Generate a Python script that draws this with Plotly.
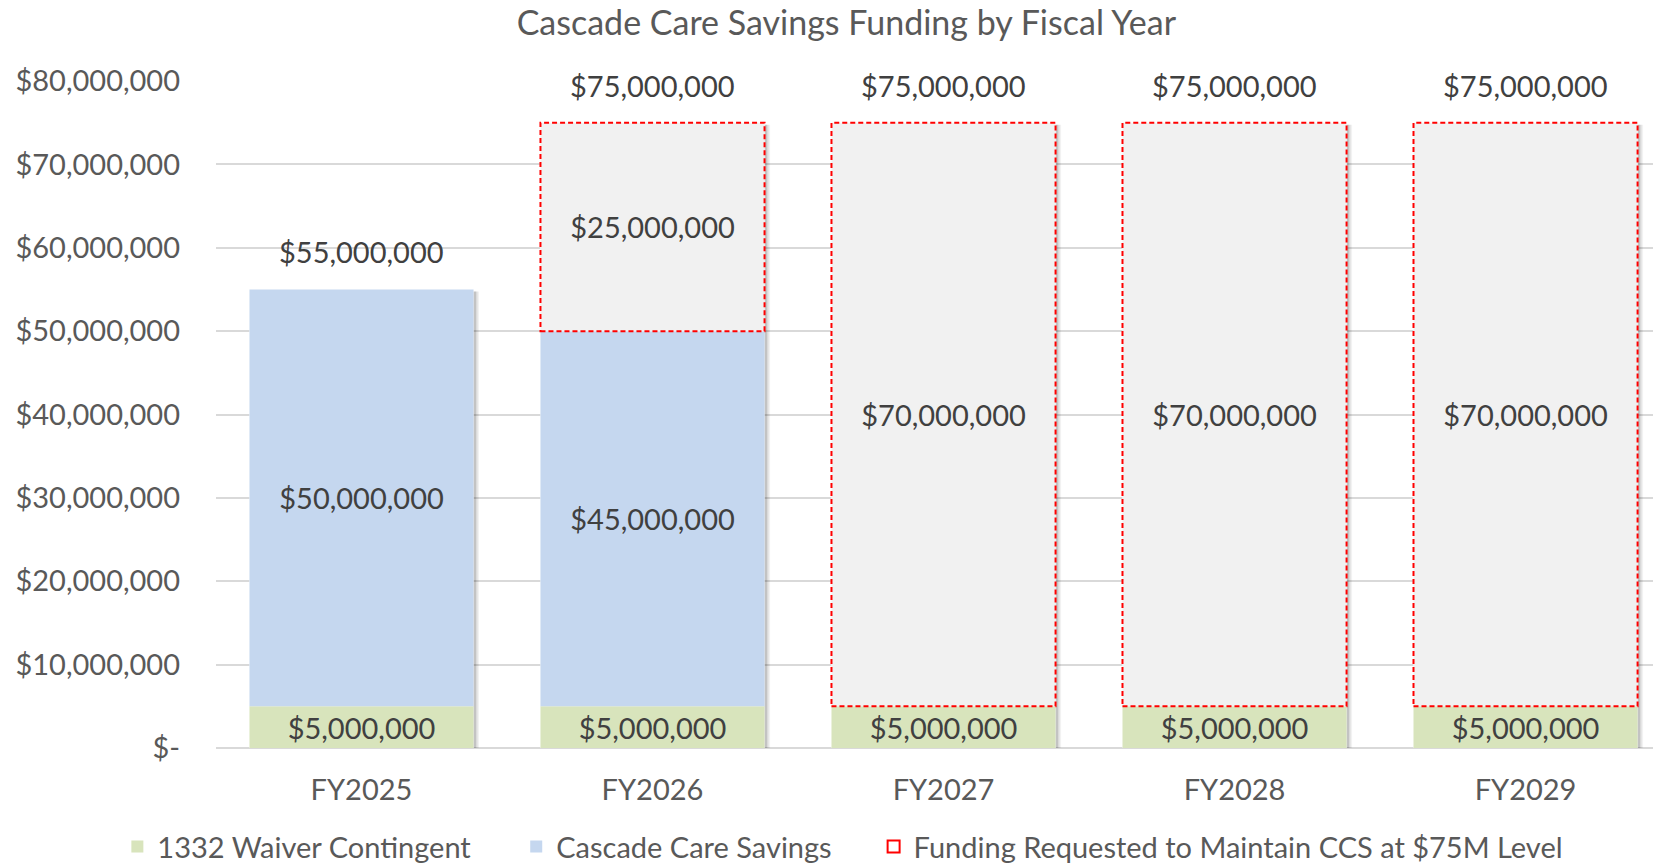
import plotly.graph_objects as go

# ---- data ----
categories = ["FY2025", "FY2026", "FY2027", "FY2028", "FY2029"]
waiver_contingent = [5_000_000, 5_000_000, 5_000_000, 5_000_000, 5_000_000]
cascade_care_savings = [50_000_000, 45_000_000, 0, 0, 0]
funding_requested = [0, 25_000_000, 70_000_000, 70_000_000, 70_000_000]
series_names = ["1332 Waiver Contingent", "Cascade Care Savings",
                "Funding Requested to Maintain CCS at $75M Level"]
y_tickvals = [0, 10_000_000, 20_000_000, 30_000_000, 40_000_000,
              50_000_000, 60_000_000, 70_000_000, 80_000_000]
y_ticktext = ["$-", "$10,000,000", "$20,000,000", "$30,000,000", "$40,000,000",
              "$50,000,000", "$60,000,000", "$70,000,000", "$80,000,000"]
title_text = "Cascade Care Savings Funding by Fiscal Year"

# ---- style ----
FONT = "Lato"
AXIS_GRAY = "#595959"
LABEL_DARK = "#404040"
GREEN = "#D8E4BC"
BLUE = "#C5D7EF"
GRAY = "#F1F1F1"
RED = "#FF0000"
BAR_W = 0.77
FS = 29
LEGEND_X = [0.0710, 0.3123, 0.5285]
LEGEND_Y = 0.020


def money(v):
    return "${:,.0f}".format(v) if v > 0 else ""


base_ccs = list(waiver_contingent)
base_req = [a + b for a, b in zip(waiver_contingent, cascade_care_savings)]
totals = [a + b for a, b in zip(base_req, funding_requested)]

fig = go.Figure()

# soft drop shadow behind each stack
for dx, alpha in [(0.019, 0.05), (0.014, 0.08), (0.009, 0.12)]:
    fig.add_trace(go.Bar(
        x=categories, y=totals, base=[-250_000] * len(totals), width=BAR_W,
        offset=-BAR_W / 2 + dx, showlegend=False, hoverinfo="skip",
        marker=dict(color="rgba(0,0,0,%s)" % alpha, line=dict(width=0)),
    ))
# white backing so the shadow does not tint the bars
fig.add_trace(go.Bar(
    x=categories, y=totals, base=[0] * len(totals), width=BAR_W,
    showlegend=False, hoverinfo="skip",
    marker=dict(color="white", line=dict(width=0)),
))

for vals, bases, color, name, leg in [
        (waiver_contingent, [0] * len(categories), GREEN, series_names[0], "legend"),
        (cascade_care_savings, base_ccs, BLUE, series_names[1], "legend2")]:
    fig.add_trace(go.Bar(
        x=categories, y=vals, base=bases, name=name, width=BAR_W, legend=leg,
        marker=dict(color=color, line=dict(width=0)),
        text=[money(v) for v in vals], textposition="inside",
        insidetextanchor="middle", constraintext="none",
        textfont=dict(family=FONT, size=FS, color=LABEL_DARK),
    ))

# third series: gray fill bar carrying labels; dashed outline drawn as shapes
fig.add_trace(go.Bar(
    x=categories, y=funding_requested, base=base_req, name=series_names[2],
    width=BAR_W, showlegend=False,
    marker=dict(color=GRAY, line=dict(width=0)),
    text=[money(v) for v in funding_requested], textposition="inside",
    insidetextanchor="middle", constraintext="none",
    textfont=dict(family=FONT, size=FS, color=LABEL_DARK),
))

first = True
for i, (b, r) in enumerate(zip(base_req, funding_requested)):
    if r <= 0:
        continue
    fig.add_shape(
        type="rect", xref="x", yref="y",
        x0=i - BAR_W / 2, x1=i + BAR_W / 2, y0=b, y1=b + r,
        fillcolor="rgba(0,0,0,0)", line=dict(color=RED, width=2, dash="5px,3px"),
        layer="above", showlegend=first, name=series_names[2], legend="legend3",
    )
    first = False

# total labels above the stacks
for cat, tot in zip(categories, totals):
    fig.add_annotation(x=cat, y=tot, text=money(tot), showarrow=False,
                       yanchor="bottom", yshift=18,
                       font=dict(family=FONT, size=FS, color=LABEL_DARK))

legend_common = dict(orientation="h", xanchor="left", xref="container",
                     y=LEGEND_Y, yanchor="middle", yref="container",
                     font=dict(family=FONT, size=FS, color=AXIS_GRAY),
                     bgcolor="rgba(0,0,0,0)")

fig.update_layout(
    barmode="overlay",
    width=1653, height=864,
    margin=dict(l=216, r=0, t=81, b=116, autoexpand=False),
    paper_bgcolor="white", plot_bgcolor="white",
    font=dict(family=FONT, size=FS, color=AXIS_GRAY),
    title=dict(text=title_text, x=0.512, xanchor="center", xref="container",
               y=0.973, yanchor="middle", yref="container",
               font=dict(family=FONT, size=34, color=AXIS_GRAY)),
    legend=dict(x=LEGEND_X[0], **legend_common),
    legend2=dict(x=LEGEND_X[1], **legend_common),
    legend3=dict(x=LEGEND_X[2], **legend_common),
    showlegend=True,
)
fig.update_xaxes(range=[-0.5, 4.438], showgrid=False, showline=False, ticks="",
                 tickfont=dict(family=FONT, size=FS, color=AXIS_GRAY),
                 ticklabelstandoff=22)
fig.update_yaxes(range=[0, 80_000_000], tickvals=y_tickvals, ticktext=y_ticktext,
                 showgrid=True, gridcolor="#D9D9D9", gridwidth=1.5,
                 zeroline=True, zerolinecolor="#D9D9D9", zerolinewidth=1.5,
                 showline=False, ticks="",
                 tickfont=dict(family=FONT, size=FS, color=AXIS_GRAY),
                 ticklabelstandoff=35)

fig.write_html("out.html")
